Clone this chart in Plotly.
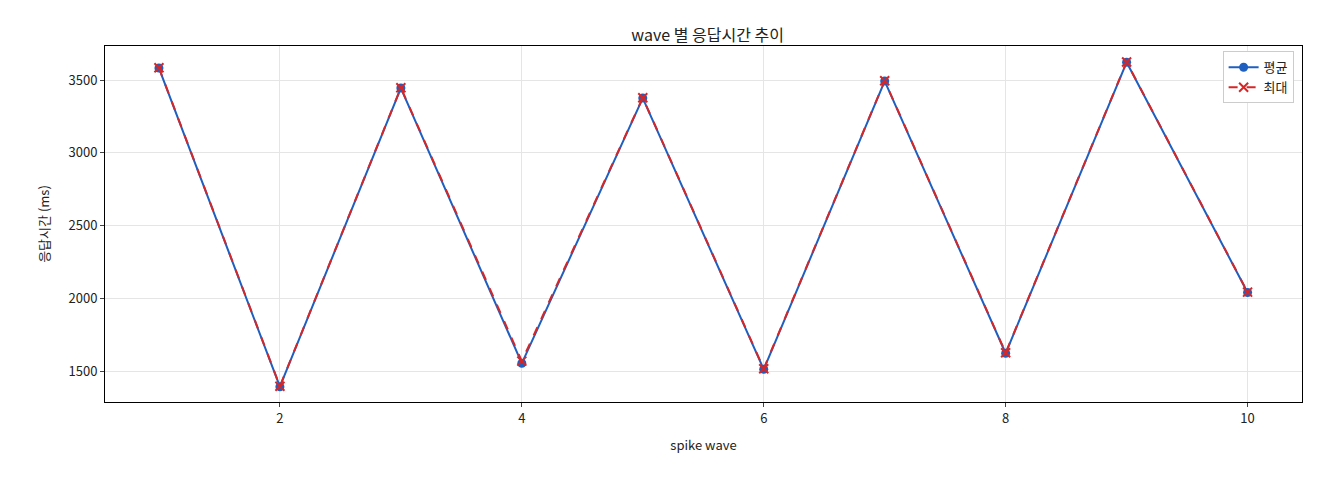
import plotly.graph_objects as go

waves = [1, 2, 3, 4, 5, 6, 7, 8, 9, 10]
mean_ms = [3582, 1392, 3445, 1553, 3376, 1512, 3493, 1622, 3622, 2040]
max_ms = [3584, 1395, 3447, 1568, 3378, 1516, 3495, 1625, 3624, 2042]

fig = go.Figure()
fig.add_trace(go.Scatter(x=waves, y=mean_ms, name="평균", mode="lines+markers",
                         line=dict(color="#1f5fbf", width=2), marker=dict(size=9, color="#1f5fbf")))
fig.add_trace(go.Scatter(x=waves, y=max_ms, name="최대", mode="lines+markers",
                         line=dict(color="#d62728", width=2, dash="dash"),
                         marker=dict(symbol="x-thin", size=9, line=dict(color="#d62728", width=2))))

axis = dict(showline=True, mirror=True, linecolor="black", linewidth=1, ticks="outside",
            ticklen=4, gridcolor="#e5e5e5", zeroline=False, tickfont=dict(size=13, color="#222"))
fig.update_layout(
    width=1320, height=480, plot_bgcolor="white", paper_bgcolor="white",
    font=dict(family="Noto Sans CJK KR", color="#222"),
    title=dict(text="wave 별 응답시간 추이", x=0.53, xanchor="center", y=0.955, font=dict(size=16)),
    margin=dict(l=97, r=26, t=38, b=86),
    xaxis=dict(axis, range=[0.554, 10.45], tickvals=[2, 4, 6, 8, 10],
               title=dict(text="spike wave", font=dict(size=13))),
    yaxis=dict(axis, range=[1287, 3734], tickvals=[1500, 2000, 2500, 3000, 3500],
               title=dict(text="응답시간 (ms)", font=dict(size=13))),
    legend=dict(x=0.993, y=0.985, xanchor="right", yanchor="top", bgcolor="white",
                bordercolor="#cccccc", borderwidth=1, font=dict(size=13)),
    showlegend=True,
)
fig.write_html("out.html")
